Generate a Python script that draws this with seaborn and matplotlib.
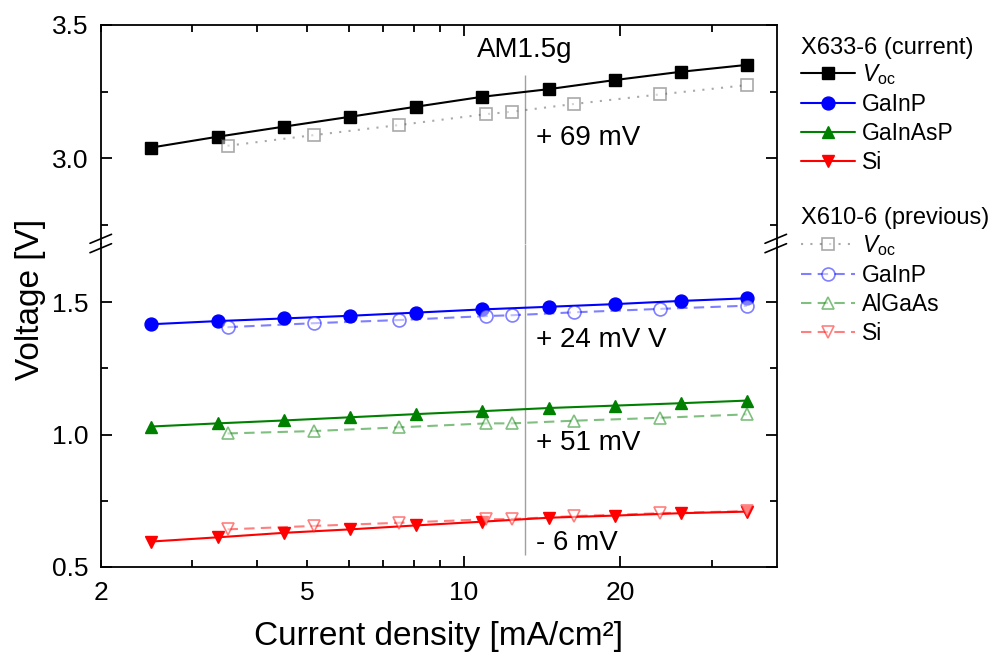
import matplotlib
matplotlib.use("Agg")
import matplotlib.pyplot as plt
from matplotlib.lines import Line2D
from matplotlib.ticker import FixedLocator, FuncFormatter, NullFormatter
import seaborn as sns

# ---------------- data ----------------
j_cur = [2.5, 3.36, 4.51, 6.04, 8.1, 10.83, 14.58, 19.5, 26.1, 35.0]
voc_cur = [3.039, 3.080, 3.118, 3.155, 3.193, 3.230, 3.259, 3.293, 3.324, 3.350]
gainp_cur = [1.416, 1.428, 1.438, 1.448, 1.460, 1.472, 1.482, 1.492, 1.504, 1.514]
gainasp_cur = [1.030, 1.042, 1.053, 1.065, 1.077, 1.088, 1.100, 1.109, 1.118, 1.128]
si_cur = [0.596, 0.612, 0.629, 0.642, 0.657, 0.671, 0.686, 0.694, 0.703, 0.709]

j_prev = [3.51, 5.14, 7.51, 11.05, 12.37, 16.26, 23.8, 35.0]
voc_prev = [3.046, 3.086, 3.124, 3.165, 3.174, 3.203, 3.239, 3.274]
gainp_prev = [1.405, 1.420, 1.432, 1.447, 1.450, 1.461, 1.474, 1.486]
algaas_prev = [1.004, 1.013, 1.027, 1.042, 1.042, 1.052, 1.063, 1.076]
si_prev = [0.642, 0.655, 0.667, 0.680, 0.681, 0.692, 0.703, 0.711]

j_am15 = 13.1
delta_labels = ["+ 69 mV", "+ 24 mV V", "+ 51 mV", "- 6 mV"]
delta_y = [3.075, 1.357, 0.969, 0.592]

cur_title = "X633-6 (current)"
prev_title = "X610-6 (previous)"
cur_labels = ["$V_{\\mathrm{oc}}$", "GaInP", "GaInAsP", "Si"]
prev_labels = ["$V_{\\mathrm{oc}}$", "GaInP", "AlGaAs", "Si"]

# ---------------- style ----------------
sns.set_style("ticks")
plt.rcParams["font.family"] = ["Liberation Sans", "DejaVu Sans"]
plt.rcParams["mathtext.fontset"] = "custom"
plt.rcParams["mathtext.rm"] = "Liberation Sans"
plt.rcParams["mathtext.it"] = "Liberation Sans:italic"
plt.rcParams["axes.linewidth"] = 1.3
for k in ("text.color", "axes.labelcolor", "xtick.color", "ytick.color", "axes.edgecolor"):
    plt.rcParams[k] = "black"

W, H = 988, 658
fig = plt.figure(figsize=(W / 100, H / 100), dpi=100)
L, R = 100.5 / W, 777 / W
ax_top = fig.add_axes([L, 1 - 243.5 / H, R - L, 218.5 / H])
ax_bot = fig.add_axes([L, 1 - 567 / H, R - L, 323.5 / H])

ylim_top = (3.5 - 218.5 / 266, 3.5)
ylim_bot = (0.5, 0.5 + 323.5 / 265)

c_black, c_blue, c_green, c_red = "black", "#0000FF", "#008000", "#FF0000"
c_gray = "#555555"


def style(color, marker, ls, prev):
    kw = dict(color=color, marker=marker, markersize=9.3, linestyle=ls, linewidth=1.5)
    if prev:
        kw.update(markerfacecolor="white", markeredgecolor=color, markeredgewidth=1.2, alpha=0.5)
    else:
        kw.update(markerfacecolor=color, markeredgecolor=color, markeredgewidth=1.0)
    return kw


dotted = (0, (1, 3.5))
dashed = (0, (5, 3))

series = [
    (ax_top, j_cur, voc_cur, style(c_black, "s", "-", False)),
    (ax_bot, j_cur, gainp_cur, style(c_blue, "o", "-", False)),
    (ax_bot, j_cur, gainasp_cur, style(c_green, "^", "-", False)),
    (ax_bot, j_cur, si_cur, style(c_red, "v", "-", False)),
    (ax_top, j_prev, voc_prev, style(c_gray, "s", dotted, True)),
    (ax_bot, j_prev, gainp_prev, style(c_blue, "o", dashed, True)),
    (ax_bot, j_prev, algaas_prev, style(c_green, "^", dashed, True)),
    (ax_bot, j_prev, si_prev, style(c_red, "v", dashed, True)),
]
for ax, x, y, kw in series:
    sns.lineplot(x=x, y=y, ax=ax, legend=False, **kw)

# AM1.5g line
ax_top.vlines(j_am15, ylim_top[0], 3.312, color="#A0A0A0", linewidth=1.0, zorder=0)
ax_bot.vlines(j_am15, 0.545, ylim_bot[1], color="#A0A0A0", linewidth=1.0, zorder=0)
ax_top.text(j_am15, 3.406, "AM1.5g", ha="center", va="center", fontsize=20)
for i, (lab, yv) in enumerate(zip(delta_labels, delta_y)):
    ax = ax_top if i == 0 else ax_bot
    ax.text(13.75, yv, lab, ha="left", va="center", fontsize=20)

# axes
for ax in (ax_top, ax_bot):
    ax.set_xscale("log")
    ax.set_xlim(2, 40)
    ax.xaxis.set_major_locator(FixedLocator([10, 20]))
    ax.xaxis.set_minor_locator(FixedLocator([2, 3, 4, 5, 6, 7, 8, 9, 30]))
    ax.tick_params(which="both", direction="in", left=True, right=True,
                   labelsize=19, width=1.3, color="black", labelcolor="black")
    ax.tick_params(which="major", length=8)
    ax.tick_params(which="minor", length=5)
    ax.tick_params(axis="y", which="both", pad=8.5)
    ax.set_xlabel("")
    ax.set_ylabel("")
    for s in ax.spines.values():
        s.set_color("black")
        s.set_linewidth(1.3)

ax_top.set_ylim(*ylim_top)
ax_top.yaxis.set_major_locator(FixedLocator([3.0, 3.5]))
ax_top.yaxis.set_minor_locator(FixedLocator([2.75, 3.25]))
ax_top.tick_params(axis="x", which="both", bottom=False, top=True, labelbottom=False)
ax_top.spines["bottom"].set_visible(False)

ax_bot.set_ylim(*ylim_bot)
ax_bot.yaxis.set_major_locator(FixedLocator([0.5, 1.0, 1.5]))
ax_bot.yaxis.set_minor_locator(FixedLocator([0.75, 1.25]))
ax_bot.tick_params(axis="x", which="both", bottom=True, top=False, pad=10)
ax_bot.spines["top"].set_visible(False)
ax_bot.xaxis.set_major_formatter(FuncFormatter(lambda v, p: f"{v:g}"))
ax_bot.xaxis.set_minor_formatter(FuncFormatter(lambda v, p: f"{v:g}" if v in (2, 5) else ""))
for ax in (ax_top, ax_bot):
    ax.yaxis.set_major_formatter(FuncFormatter(lambda v, p: f"{v:.1f}"))
    ax.yaxis.set_minor_formatter(NullFormatter())
ax_top.xaxis.set_major_formatter(NullFormatter())
ax_top.xaxis.set_minor_formatter(NullFormatter())

# axis labels
fig.text(30 / W, 1 - 299 / H, "Voltage [V]", rotation=90, ha="center", va="center", fontsize=24)
fig.text(438.7 / W, 1 - 637 / H, "Current density [mA/cm²]", ha="center", va="center", fontsize=24)

# break marks
for x0 in (90, 765):
    for dy in (0, 9.4):
        fig.add_artist(Line2D([x0 / W, (x0 + 21.5) / W],
                              [1 - (243.3 + dy) / H, 1 - (234.3 + dy) / H],
                              transform=fig.transFigure, color="black", linewidth=1.2))

# legends
def handle(kw):
    return Line2D([], [], **kw)

h_cur = [handle(kw) for _, _, _, kw in series[:4]]
h_prev = [handle(kw) for _, _, _, kw in series[4:]]
common = dict(loc="upper left", frameon=False, fontsize=16.5,
              borderpad=0, borderaxespad=0, handlelength=2.35,
              handletextpad=0.3, labelspacing=0.265)
fig.text(801 / W, 1 - 48 / H, cur_title, ha="left", va="center", fontsize=17)
fig.text(801 / W, 1 - 218 / H, prev_title, ha="left", va="center", fontsize=17)
fig.legend(h_cur, cur_labels, bbox_to_anchor=(801 / W, 1 - 62.3 / H), **common)
fig.legend(h_prev, prev_labels, bbox_to_anchor=(801 / W, 1 - 233.3 / H), **common)

fig.savefig("out.png", dpi=100)
